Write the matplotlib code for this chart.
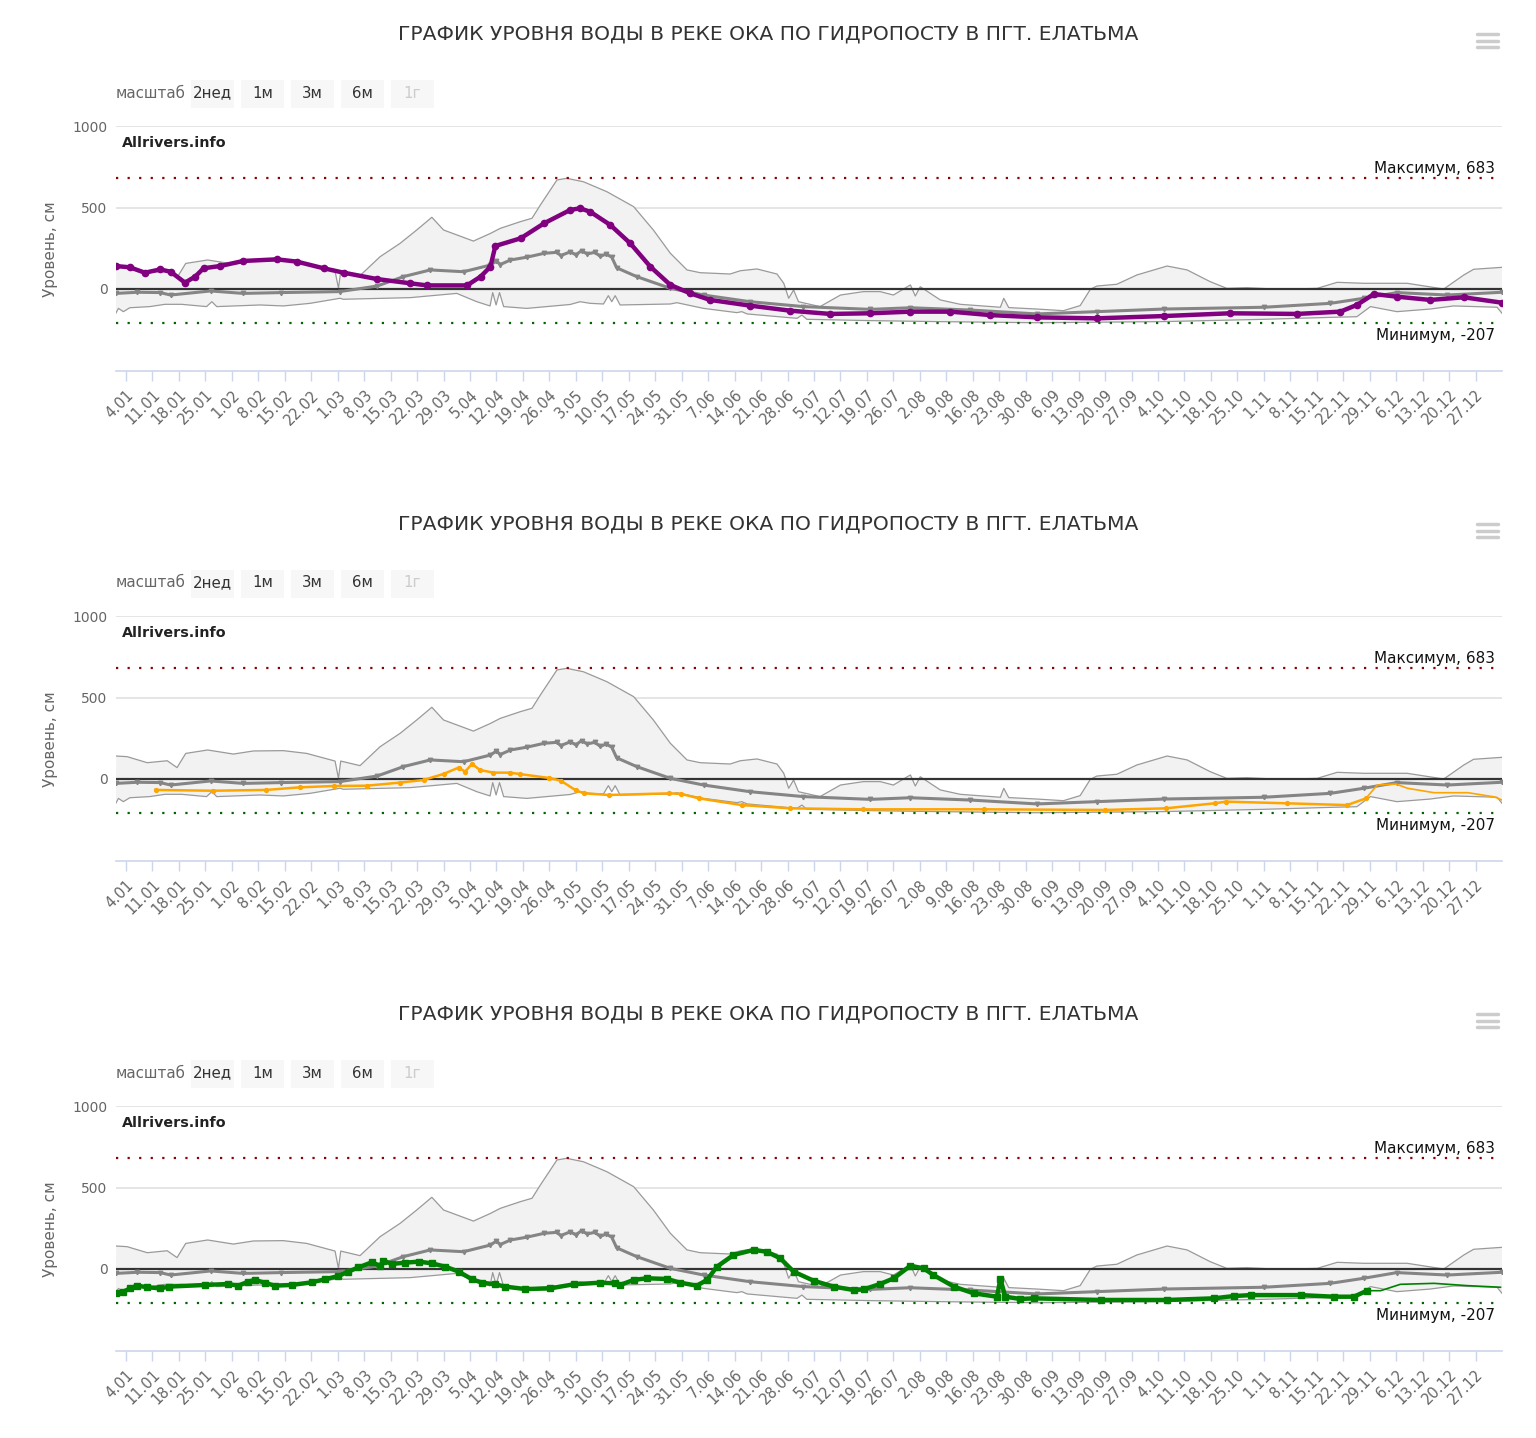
import datetime
import numpy as np
import matplotlib
matplotlib.use("Agg")
from matplotlib import pyplot as plt
from matplotlib.patches import Rectangle
from matplotlib.lines import Line2D

W, H = 1536, 1438
TITLE = "ГРАФИК УРОВНЯ ВОДЫ В РЕКЕ ОКА ПО ГИДРОПОСТУ В ПГТ. ЕЛАТЬМА"

tick_labels = ["4.01", "11.01", "18.01", "25.01", "1.02", "8.02", "15.02", "22.02",
               "1.03", "8.03", "15.03", "22.03", "29.03", "5.04", "12.04", "19.04",
               "26.04", "3.05", "10.05", "17.05", "24.05", "31.05", "7.06", "14.06",
               "21.06", "28.06", "5.07", "12.07", "19.07", "26.07", "2.08", "9.08",
               "16.08", "23.08", "30.08", "6.09", "13.09", "20.09", "27.09", "4.10",
               "11.10", "18.10", "25.10", "1.11", "8.11", "15.11", "22.11", "29.11",
               "6.12", "13.12", "20.12", "27.12"]

# historical maximum (upper edge of the grey band), day of year / level cm
upper_x = [1.4, 4.3, 9.6, 14.9, 17.5, 19.8, 25.6, 32.4, 37.7, 45.6, 51.8, 59.3, 60.2, 60.8,
           65.9, 71.2, 76.5, 80.9, 84.9, 88, 95.9, 100.4, 103, 108.3, 111.4, 113.6, 118,
           120.6, 125, 131.2, 138.3, 143.5, 148, 152.4, 155.9, 163.8, 166.5, 170.9, 176.2,
           178, 179.3, 180.6, 181.9, 187.6, 193, 199.1, 203.5, 207, 211.5, 212.8, 214.1,
           219.4, 224.7, 235.3, 236.2, 237.5, 245, 252, 256.4, 259.1, 260.8, 266.1, 271.4,
           279.4, 284.7, 290.8, 295.2, 300.5, 309.4, 319.1, 324.4, 331.4, 342.9, 352.6,
           357.9, 360.5, 368]
upper_y = [141, 137, 100, 112, 70, 157, 178, 153, 172, 174, 157, 110, 4, 110,
           82, 198, 280, 362, 440, 362, 294, 341, 372, 413, 434, 515, 669,
           679, 658, 597, 505, 362, 219, 117, 100, 92, 112, 123, 92,
           35, -57, -6, -78, -108, -37, -16, -16, -37, 25, -43, 14,
           -67, -94, -112, -57, -114, -123, -133, -102, -2, 18, 29, 86,
           141, 117, 45, 4, 8, -2, 4, 41, 35, 35, 0,
           86, 121, 133]

# historical minimum (lower edge of the grey band)
lower_x = [1.3, 2, 3.3, 5, 10.3, 14.3, 18.7, 25.3, 26.7, 28, 39.5, 45.6, 52.7, 60.6, 61.5,
           79.2, 91.5, 96.8, 100.3, 101, 101.9, 102.8, 103.9, 110, 121.5, 124.1, 126.8,
           130.3, 131.6, 132.5, 133.4, 134.7, 148, 149.7, 156.8, 165.6, 166.9, 168.3,
           181.5, 182.8, 184.1, 200.9, 218.5, 245, 278.5, 305, 322.6, 329.6, 333.2,
           340.2, 349, 355.2, 366.7, 368]
lower_y = [-149, -119, -139, -115, -108, -94, -94, -108, -78, -108, -98, -104, -88, -57, -63,
           -53, -27, -78, -104, -22, -98, -22, -108, -119, -95, -78, -88,
           -92, -41, -78, -41, -98, -92, -84, -119, -145, -139, -153,
           -180, -160, -186, -194, -200, -207, -200, -186, -174, -170, -108,
           -139, -123, -104, -112, -149]

# mean level (grey line with markers)
mean_x = [1.3, 7, 13, 15.8, 26.4, 35, 45, 60.5, 70.4, 77.4, 84.5, 93.3, 100.4, 102, 103,
          105.7, 110, 114.6, 118, 119, 121.5, 123, 124.5, 126, 128, 129.5, 131, 132.5,
          133.8, 139.1, 148, 156.8, 169.1, 183.2, 200.9, 211.5, 227.3, 245, 260.8, 278.5,
          305, 322.6, 331.4, 340.2, 353.5, 368]
mean_y = [-27, -20, -22, -37, -12, -27, -22, -16, 18, 76, 117, 106, 147, 172, 150,
          178, 195, 219, 225, 205, 228, 210, 235, 215, 225, 200, 215, 195,
          130, 76, 4, -37, -78, -108, -125, -115, -129, -153, -139, -123,
          -112, -88, -57, -22, -37, -20]

# level series, panel 1 (purple)
purple_x = [1.3, 5, 9, 13, 15.8, 19.6, 22.3, 24.5, 28.9, 35, 43.9, 49.2, 56.3, 61.6, 70.4,
            79.2, 83.6, 94.2, 97.8, 100.4, 101.7, 108.4, 114.6, 121.5, 124.1, 126.8, 132.1,
            137.4, 142.7, 148, 153.3, 158.5, 169.1, 179.7, 190.3, 200.9, 211.5, 222.1,
            232.6, 245, 260.8, 278.5, 296.1, 313.8, 325.2, 329.6, 334.1, 340.2, 349,
            357.9, 368]
purple_y = [141, 133, 100, 120, 106, 39, 76, 127, 141, 172, 182, 168, 127, 100, 61,
            35, 22, 22, 76, 137, 264, 311, 403, 485, 495, 474, 393,
            280, 137, 25, -27, -67, -102, -133, -153, -149, -139, -139,
            -160, -174, -180, -166, -149, -153, -139, -98, -31, -47, -67,
            -51, -84]

# level series, panel 2 (orange)
orange_x = [11.8, 27, 41.1, 50, 58.9, 67.7, 76.5, 82.7, 88, 92, 93.7, 95.5, 97.7, 101.2,
            105.6, 108.3, 116, 119, 123, 125.2, 131.7, 147.7, 150.9, 155.6, 166.9, 179.7,
            199, 231, 263, 279, 292, 295, 311, 327, 332]
orange_y = [-67, -72, -67, -51, -43, -41, -22, -6, 31, 70, 45, 92, 55, 39,
            39, 30, 6, -10, -70, -88, -98, -88, -92, -119, -160, -180,
            -186, -186, -190, -180, -149, -139, -149, -160, -119]
orange_tail_x = [332, 335, 340, 343, 350, 359, 366, 368]
orange_tail_y = [-119, -37, -31, -57, -84, -84, -110, -129]

# level series, panel 3 (green)
green_x = [1.4, 3.3, 5.1, 6.9, 9.6, 13.1, 15.3, 24.9, 31, 33.7, 36.3, 38.1, 40.7, 43.3,
           47.8, 53.1, 56.6, 60.2, 62.8, 65.5, 69, 71.2, 72.1, 74.3, 77.9, 81.4, 84.9,
           88.5, 92, 95.5, 98.2, 101.7, 104.3, 109.6, 116.2, 122.4, 129.4, 133.4, 134.7,
           138.3, 141.8, 147.1, 150.6, 155, 157.7, 160.3, 164.7, 170, 173.5, 177.1, 180.6,
           185.9, 191.2, 196.5, 199.1, 203.5, 207.1, 211.5, 215, 217.6, 223, 228.2, 234.4,
           235.3, 236.6, 240.6, 244.1, 261.8, 279.4, 291.8, 297, 301.5, 314.7, 323.5,
           328.8, 332.3]
green_y = [-149, -139, -119, -102, -112, -119, -108, -98, -92, -102, -78, -67, -84, -102,
           -98, -82, -63, -43, -16, 10, 41, 20, 51, 31, 39, 45, 35,
           14, -16, -63, -84, -94, -108, -123, -119, -94, -84, -88, -98,
           -67, -57, -61, -84, -102, -67, 14, 86, 117, 106, 65, -16,
           -72, -108, -129, -125, -92, -57, 20, 4, -37, -108, -149, -170,
           -61, -170, -184, -180, -190, -190, -180, -166, -160, -160, -170,
           -170, -133]
green_tail_x = [332.3, 335.9, 341.1, 350, 358.8, 367.6]
green_tail_y = [-133, -133, -94, -88, -102, -112]

LEVEL_MAX = 683
LEVEL_MIN = -207

buttons = ["2нед", "1м", "3м", "6м", "1г"]
button_x = [191, 241, 291, 341, 391]

tick_days = [datetime.date(2019, int(t.split(".")[1]), int(t.split(".")[0])).timetuple().tm_yday
             for t in tick_labels]

panels = [
    dict(x=purple_x, y=purple_y, color="#800080", marker="o", ms=4.5, lw=3.2, tail=None),
    dict(x=orange_x, y=orange_y, color="#ffa500", marker="o", ms=2.8, lw=1.8,
         tail=(orange_tail_x, orange_tail_y)),
    dict(x=green_x, y=green_y, color="#008000", marker="s", ms=4.5, lw=3.2,
         tail=(green_tail_x, green_tail_y)),
]

fig = plt.figure(figsize=(W / 100, H / 100), dpi=100)
plt.rcParams['font.family'] = ['DejaVu Sans']


def fy(y):
    return 1 - y / H


for k, p in enumerate(panels):
    off = 490 * k
    ax = fig.add_axes([116 / W, 1 - (370.5 + off) / H, 1386 / W, 244.5 / H])
    ax.set_xlim(1.35, 368)
    ax.set_ylim(-500, 1000)

    for s in ["top", "right", "left"]:
        ax.spines[s].set_visible(False)
    ax.spines["bottom"].set_color("#ccd6eb")
    ax.spines["bottom"].set_linewidth(1.2)

    for g in [500, 1000]:
        ax.axhline(g, color="#e0e0e0", lw=1.2, zorder=0)

    # grey band
    band_x = np.concatenate([upper_x, lower_x[::-1]])
    band_y = np.concatenate([upper_y, lower_y[::-1]])
    ax.fill(band_x, band_y, color="#f2f2f2", zorder=1, lw=0)
    ax.plot(upper_x, upper_y, color="#9a9a9a", lw=0.9, zorder=2)
    ax.plot(lower_x, lower_y, color="#9a9a9a", lw=0.9, zorder=2)

    ax.axhline(0, color="#333333", lw=1.6, zorder=2.5)
    ax.axhline(LEVEL_MAX, color="#8b0000", lw=1.6, dashes=(1, 4.2), zorder=2)
    ax.axhline(LEVEL_MIN, color="#006400", lw=1.6, dashes=(1, 4.2), zorder=2)

    ax.plot(mean_x, mean_y, color="#858585", lw=2.2, marker="v", ms=3.2, zorder=3)

    ax.plot(p["x"], p["y"], color=p["color"], lw=p["lw"], marker=p["marker"],
            ms=p["ms"], zorder=4)
    if p["tail"] is not None:
        ax.plot(p["tail"][0], p["tail"][1], color=p["color"], lw=1.2, zorder=4)

    ax.set_yticks([0, 500, 1000])
    ax.set_yticklabels(["0", "500", "1000"])
    ax.tick_params(axis="y", length=0, pad=6, labelsize=10, labelcolor="#666666")
    ax.set_xticks(tick_days)
    ax.set_xticklabels(tick_labels, rotation=45, ha="right", rotation_mode="anchor")
    ax.tick_params(axis="x", length=7, width=1, color="#ccd6eb", labelsize=10.5,
                   labelcolor="#666666", pad=5)

    fig.text(768 / W, fy(34 + off), TITLE, ha="center", va="center", fontsize=14.6,
             color="#333333")
    fig.text(50 / W, fy(249 + off), "Уровень, см", rotation=90, ha="center",
             va="center", fontsize=11, color="#666666")
    fig.text(122 / W, fy(143 + off), "Allrivers.info", ha="left", va="center",
             fontsize=10.3, fontweight="bold", color="#222222")
    fig.text(1495 / W, fy(173 + off), "Максимум, 683", ha="right", va="baseline",
             fontsize=11, color="#111111")
    fig.text(1495 / W, fy(340 + off), "Минимум, -207", ha="right", va="baseline",
             fontsize=11, color="#111111")

    # range selector
    fig.text(116 / W, fy(93 + off), "масштаб", ha="left", va="center",
             fontsize=10.8, color="#666666")
    for i, (b, bx) in enumerate(zip(buttons, button_x)):
        fig.add_artist(Rectangle((bx / W, fy(108 + off)), 43 / W, 28 / H,
                                 transform=fig.transFigure, facecolor="#f7f7f7",
                                 edgecolor="none"))
        fig.text((bx + 21.5) / W, fy(93 + off), b, ha="center", va="center",
                 fontsize=10.8, color="#cccccc" if i == 4 else "#333333")

    # menu icon
    for ly in [34, 40.5, 47]:
        fig.add_artist(Line2D([1477 / W, 1498 / W], [fy(ly + off), fy(ly + off)],
                              transform=fig.transFigure, color="#cccccc", lw=2.5,
                              solid_capstyle="round"))

fig.savefig("out.png", dpi=100, facecolor="white")
